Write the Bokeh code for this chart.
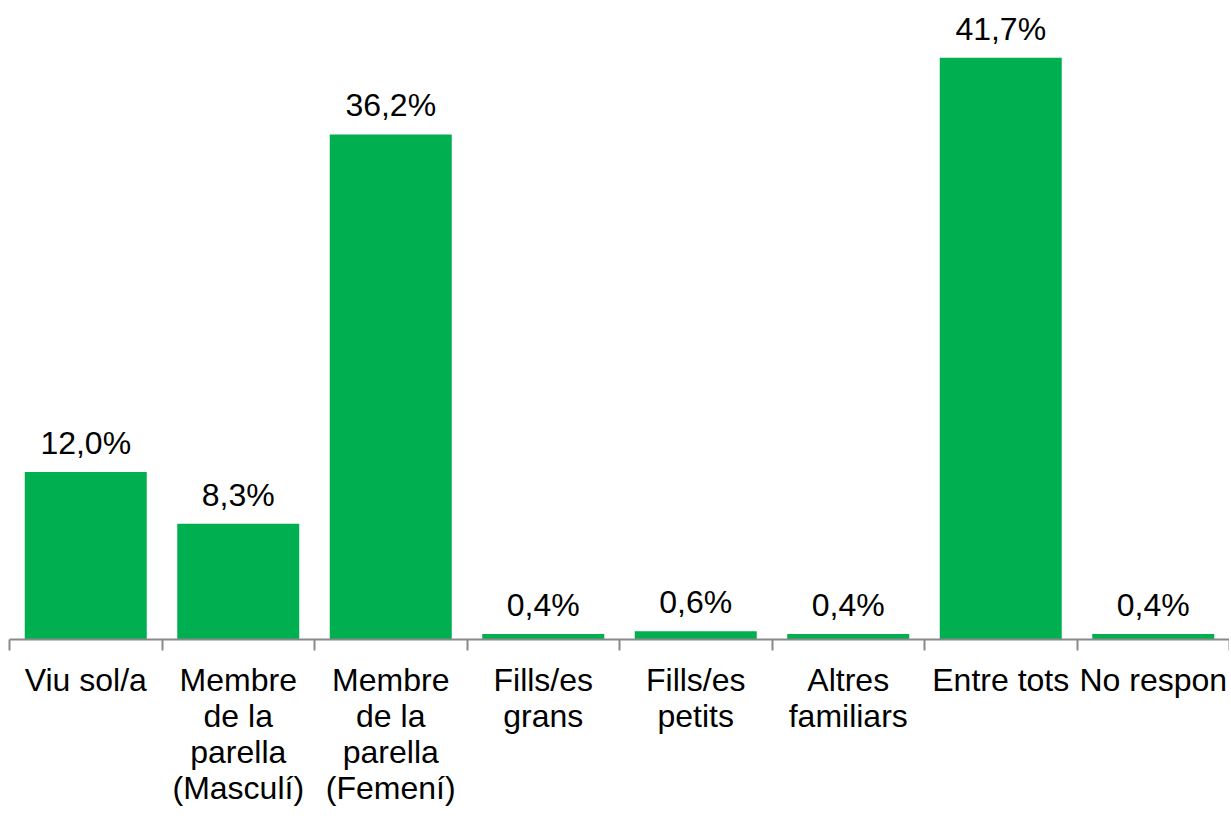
from bokeh.plotting import figure
from bokeh.models import ColumnDataSource, FixedTicker, CustomJSTickFormatter, Range1d
from bokeh.core.properties import value
from bokeh.embed import file_html
from bokeh.resources import INLINE

categories = ["Viu sol/a", "Membre\nde la\nparella\n(Masculí)", "Membre\nde la\nparella\n(Femení)",
              "Fills/es\ngrans", "Fills/es\npetits", "Altres\nfamiliars", "Entre tots", "No respon"]
values = [12.0, 8.3, 36.2, 0.4, 0.6, 0.4, 41.7, 0.4]
value_labels = [f"{v:.1f}".replace(".", ",") + "%" for v in values]

FONT = "Liberation Sans"
FS = "32px"
GREEN = "#00B050"

xs = [i + 0.5 for i in range(len(categories))]
src = ColumnDataSource(dict(x=xs, top=values, lab=value_labels))

p = figure(width=1229, height=808, output_backend="svg", toolbar_location=None,
           x_range=Range1d(0, len(categories)), y_range=Range1d(0, 45.8),
           y_axis_location=None, min_border_left=9, min_border_right=0,
           min_border_top=0, min_border_bottom=0)
p.outline_line_color = None
p.grid.visible = False

p.vbar(x="x", top="top", width=0.8, bottom=0, source=src, fill_color=GREEN, line_color=None)

p.text(x="x", y="top", text="lab", source=src, text_align="center",
       text_baseline="alphabetic", y_offset=-29, text_font=value(FONT),
       text_font_size=FS, text_color="black")

ax = p.xaxis[0]
ax.ticker = FixedTicker(ticks=xs, minor_ticks=list(range(len(categories) + 1)))
ax.formatter = CustomJSTickFormatter(args=dict(labels=categories),
                                     code="const i = Math.floor(tick); return labels[i] || '';")
ax.axis_line_color = "#898989"
ax.axis_line_width = 2
ax.major_tick_out = 0
ax.major_tick_in = 0
ax.minor_tick_out = 11
ax.minor_tick_in = 0
ax.minor_tick_line_color = "#898989"
ax.minor_tick_line_width = 2
ax.major_label_text_font = FONT
ax.major_label_text_font_size = FS
ax.major_label_text_line_height = 1.0
ax.major_label_text_color = "black"
ax.major_label_standoff = 11
ax.major_label_orientation = "horizontal"

open("out.html", "w").write(file_html(p, INLINE))
